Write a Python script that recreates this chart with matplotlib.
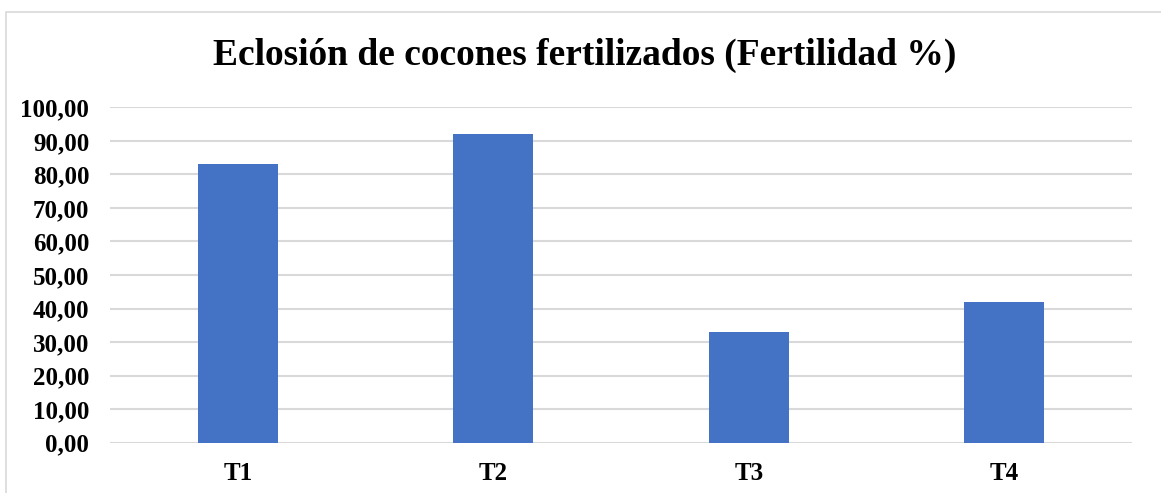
import matplotlib
matplotlib.use("Agg")
import matplotlib.pyplot as plt
from matplotlib.ticker import FuncFormatter, MultipleLocator
from matplotlib.patches import Rectangle

categories = ["T1", "T2", "T3", "T4"]
fertilidad = [83.0, 92.0, 33.0, 42.0]
title = "Eclosión de cocones fertilizados (Fertilidad %)"

plt.rcParams['font.family'] = ['Liberation Serif', 'DejaVu Serif']
plt.rcParams['font.weight'] = 'bold'

W, H = 1161, 493
fig = plt.figure(figsize=(W / 100, H / 100), dpi=100)

# light frame of the chart area (cut at right and bottom in the reference)
fig.patches.append(Rectangle((6 / W, -0.1), 1.2, (H - 11.5) / H + 0.1,
                             transform=fig.transFigure, fill=False,
                             edgecolor="#d9d9d9", linewidth=1.2))

ax = fig.add_axes([110 / W, 50.3 / H, (1132 - 110) / W, (442.7 - 107.3) / H])
x = range(len(categories))
ax.bar(x, fertilidad, width=0.313, color="#4472C4", zorder=3)

ax.set_xlim(-0.5, len(categories) - 0.5)
ax.set_ylim(0, 100)
ax.yaxis.set_major_locator(MultipleLocator(10))
ax.yaxis.set_major_formatter(FuncFormatter(lambda v, p: f"{v:.2f}".replace(".", ",")))
ax.set_xticks(list(x))
ax.set_xticklabels(categories)

ax.grid(axis="y", color="#d9d9d9", linewidth=1.5, zorder=0)
for s in ax.spines.values():
    s.set_visible(False)
ax.tick_params(axis="y", length=0, pad=15, labelsize=18)
ax.tick_params(axis="x", length=0, pad=14, labelsize=18)
for lab in ax.get_xticklabels() + ax.get_yticklabels():
    lab.set_fontweight("bold")

fig.text(0.5 * (215 + 955) / W, (H - 65) / H, title, ha="center", va="baseline",
         fontsize=27, fontweight="bold")

fig.savefig("out.png", dpi=100)
